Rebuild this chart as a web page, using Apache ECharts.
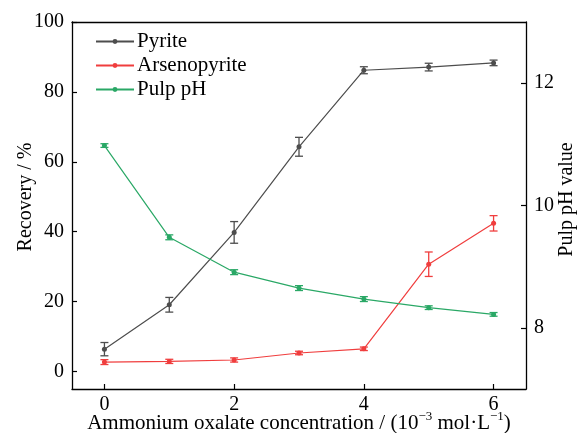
<!DOCTYPE html>
<html>
<head>
<meta charset="utf-8">
<script src="https://cdn.jsdelivr.net/npm/echarts@6/dist/echarts.min.js"></script>
<style>
  html, body { margin: 0; padding: 0; background: #fff; }
  #chart { width: 583px; height: 433px; }
</style>
</head>
<body>
<div id="chart"></div>
<script>
// Ammonium oxalate concentration (10^-3 mol/L)
const concentration = [0, 1, 2, 3, 4, 5, 6];
// Flotation recovery (%) with standard deviations
const pyrite = [6.4, 19.1, 39.8, 64.3, 86.2, 87.1, 88.3];
const pyriteErr = [1.9, 2.1, 3.1, 2.7, 1.0, 1.1, 0.8];
const arsenopyrite = [2.7, 2.9, 3.3, 5.3, 6.5, 30.7, 42.4];
const arsenopyriteErr = [0.7, 0.6, 0.6, 0.5, 0.5, 3.5, 2.2];
// Pulp pH
const pulpPH = [10.98, 9.48, 8.91, 8.65, 8.47, 8.33, 8.22];
const pulpPHErr = [0.03, 0.04, 0.04, 0.04, 0.04, 0.03, 0.03];

const xTicks = [0, 2, 4, 6];
const recoveryTicks = [0, 20, 40, 60, 80, 100];
const phTicks = [8, 10, 12];

const FONT = "'Liberation Serif', 'Times New Roman', serif";
const GRAY = '#4d4d4d';
const RED = '#f03e3e';
const GREEN = '#2aa866';

function pairs(xs, ys) { return xs.map((x, i) => [x, ys[i]]); }
function errData(xs, ys, es) { return xs.map((x, i) => [x, ys[i] - es[i], ys[i] + es[i]]); }

function errorBar(color) {
  return function (params, api) {
    const x = api.value(0);
    const lo = api.coord([x, api.value(1)]);
    const hi = api.coord([x, api.value(2)]);
    const w = 4;
    const style = { stroke: color, lineWidth: 1.3 };
    return {
      type: 'group',
      children: [
        { type: 'line', shape: { x1: lo[0], y1: lo[1], x2: hi[0], y2: hi[1] }, style },
        { type: 'line', shape: { x1: lo[0] - w, y1: lo[1], x2: lo[0] + w, y2: lo[1] }, style },
        { type: 'line', shape: { x1: hi[0] - w, y1: hi[1], x2: hi[0] + w, y2: hi[1] }, style }
      ]
    };
  };
}

function lineSeries(name, data, color, yAxisIndex) {
  return {
    name, type: 'line', data, yAxisIndex,
    symbol: 'circle', symbolSize: 5,
    lineStyle: { color, width: 1.2 },
    itemStyle: { color },
    z: 3
  };
}

function errSeries(data, color, yAxisIndex) {
  return {
    type: 'custom', data, yAxisIndex,
    renderItem: errorBar(color),
    encode: { x: 0, y: [1, 2] },
    silent: true, z: 4
  };
}

const axisLine = { show: true, onZero: false, lineStyle: { color: '#000', width: 1.3 } };

const chart = echarts.init(document.getElementById('chart'), null, { renderer: 'canvas' });
chart.setOption({
  animation: false,
  backgroundColor: '#fff',
  textStyle: { fontFamily: FONT },
  grid: { left: 72, right: 57, top: 22, bottom: 44, outerBoundsMode: 'none', containLabel: false },
  legend: {
    orient: 'vertical', left: 95, top: 31, padding: 0,
    itemWidth: 38, itemHeight: 6, itemGap: 3,
    textStyle: { fontFamily: FONT, fontSize: 21, color: '#000', padding: [0, 0, 0, -2] },
    data: ['Pyrite', 'Arsenopyrite', 'Pulp pH']
  },
  xAxis: [{
    type: 'value', min: -0.5, max: 6.5, interval: 0.5,
    splitLine: { show: false },
    axisLine,
    axisTick: { inside: true, length: 5, customValues: xTicks, lineStyle: { color: '#000', width: 1.2 } },
    axisLabel: { customValues: xTicks, fontFamily: FONT, fontSize: 20, color: '#000', margin: 6 },
    name: 'Ammonium oxalate concentration / (10{sup|−3} mol·L{sup|−1})',
    nameLocation: 'middle', nameGap: 21, nameMoveOverlap: false,
    nameTextStyle: {
      fontFamily: FONT, fontSize: 21, color: '#000',
      rich: { sup: { fontFamily: FONT, fontSize: 13, color: '#000', verticalAlign: 'top', lineHeight: 27 } }
    }
  }, {
    type: 'value', position: 'top', min: -0.5, max: 6.5,
    axisLine, axisTick: { show: false }, axisLabel: { show: false }, splitLine: { show: false }
  }],
  yAxis: [{
    type: 'value', min: -5, max: 100, interval: 5,
    splitLine: { show: false },
    axisLine,
    axisTick: { inside: true, length: 5, customValues: recoveryTicks, lineStyle: { color: '#000', width: 1.2 } },
    axisLabel: { customValues: recoveryTicks, fontFamily: FONT, fontSize: 20, color: '#000', margin: 8 },
    name: 'Recovery / %', nameLocation: 'middle', nameGap: 36, nameRotate: 90, nameMoveOverlap: false,
    nameTextStyle: { fontFamily: FONT, fontSize: 20, color: '#000', padding: [0, 0, 0, 17] }
  }, {
    type: 'value', position: 'right', min: 7, max: 13, interval: 1,
    splitLine: { show: false },
    axisLine,
    axisTick: { inside: true, length: 5, customValues: phTicks, lineStyle: { color: '#000', width: 1.2 } },
    axisLabel: { customValues: phTicks, fontFamily: FONT, fontSize: 20, color: '#000', margin: 8 },
    name: 'Pulp pH value', nameLocation: 'middle', nameGap: 31, nameRotate: 90, nameMoveOverlap: false,
    nameTextStyle: { fontFamily: FONT, fontSize: 20, color: '#000', padding: [0, 0, 0, 12] }
  }],
  series: [
    lineSeries('Pyrite', pairs(concentration, pyrite), GRAY, 0),
    lineSeries('Arsenopyrite', pairs(concentration, arsenopyrite), RED, 0),
    lineSeries('Pulp pH', pairs(concentration, pulpPH), GREEN, 1),
    errSeries(errData(concentration, pyrite, pyriteErr), GRAY, 0),
    errSeries(errData(concentration, arsenopyrite, arsenopyriteErr), RED, 0),
    errSeries(errData(concentration, pulpPH, pulpPHErr), GREEN, 1)
  ]
});
</script>
</body>
</html>
